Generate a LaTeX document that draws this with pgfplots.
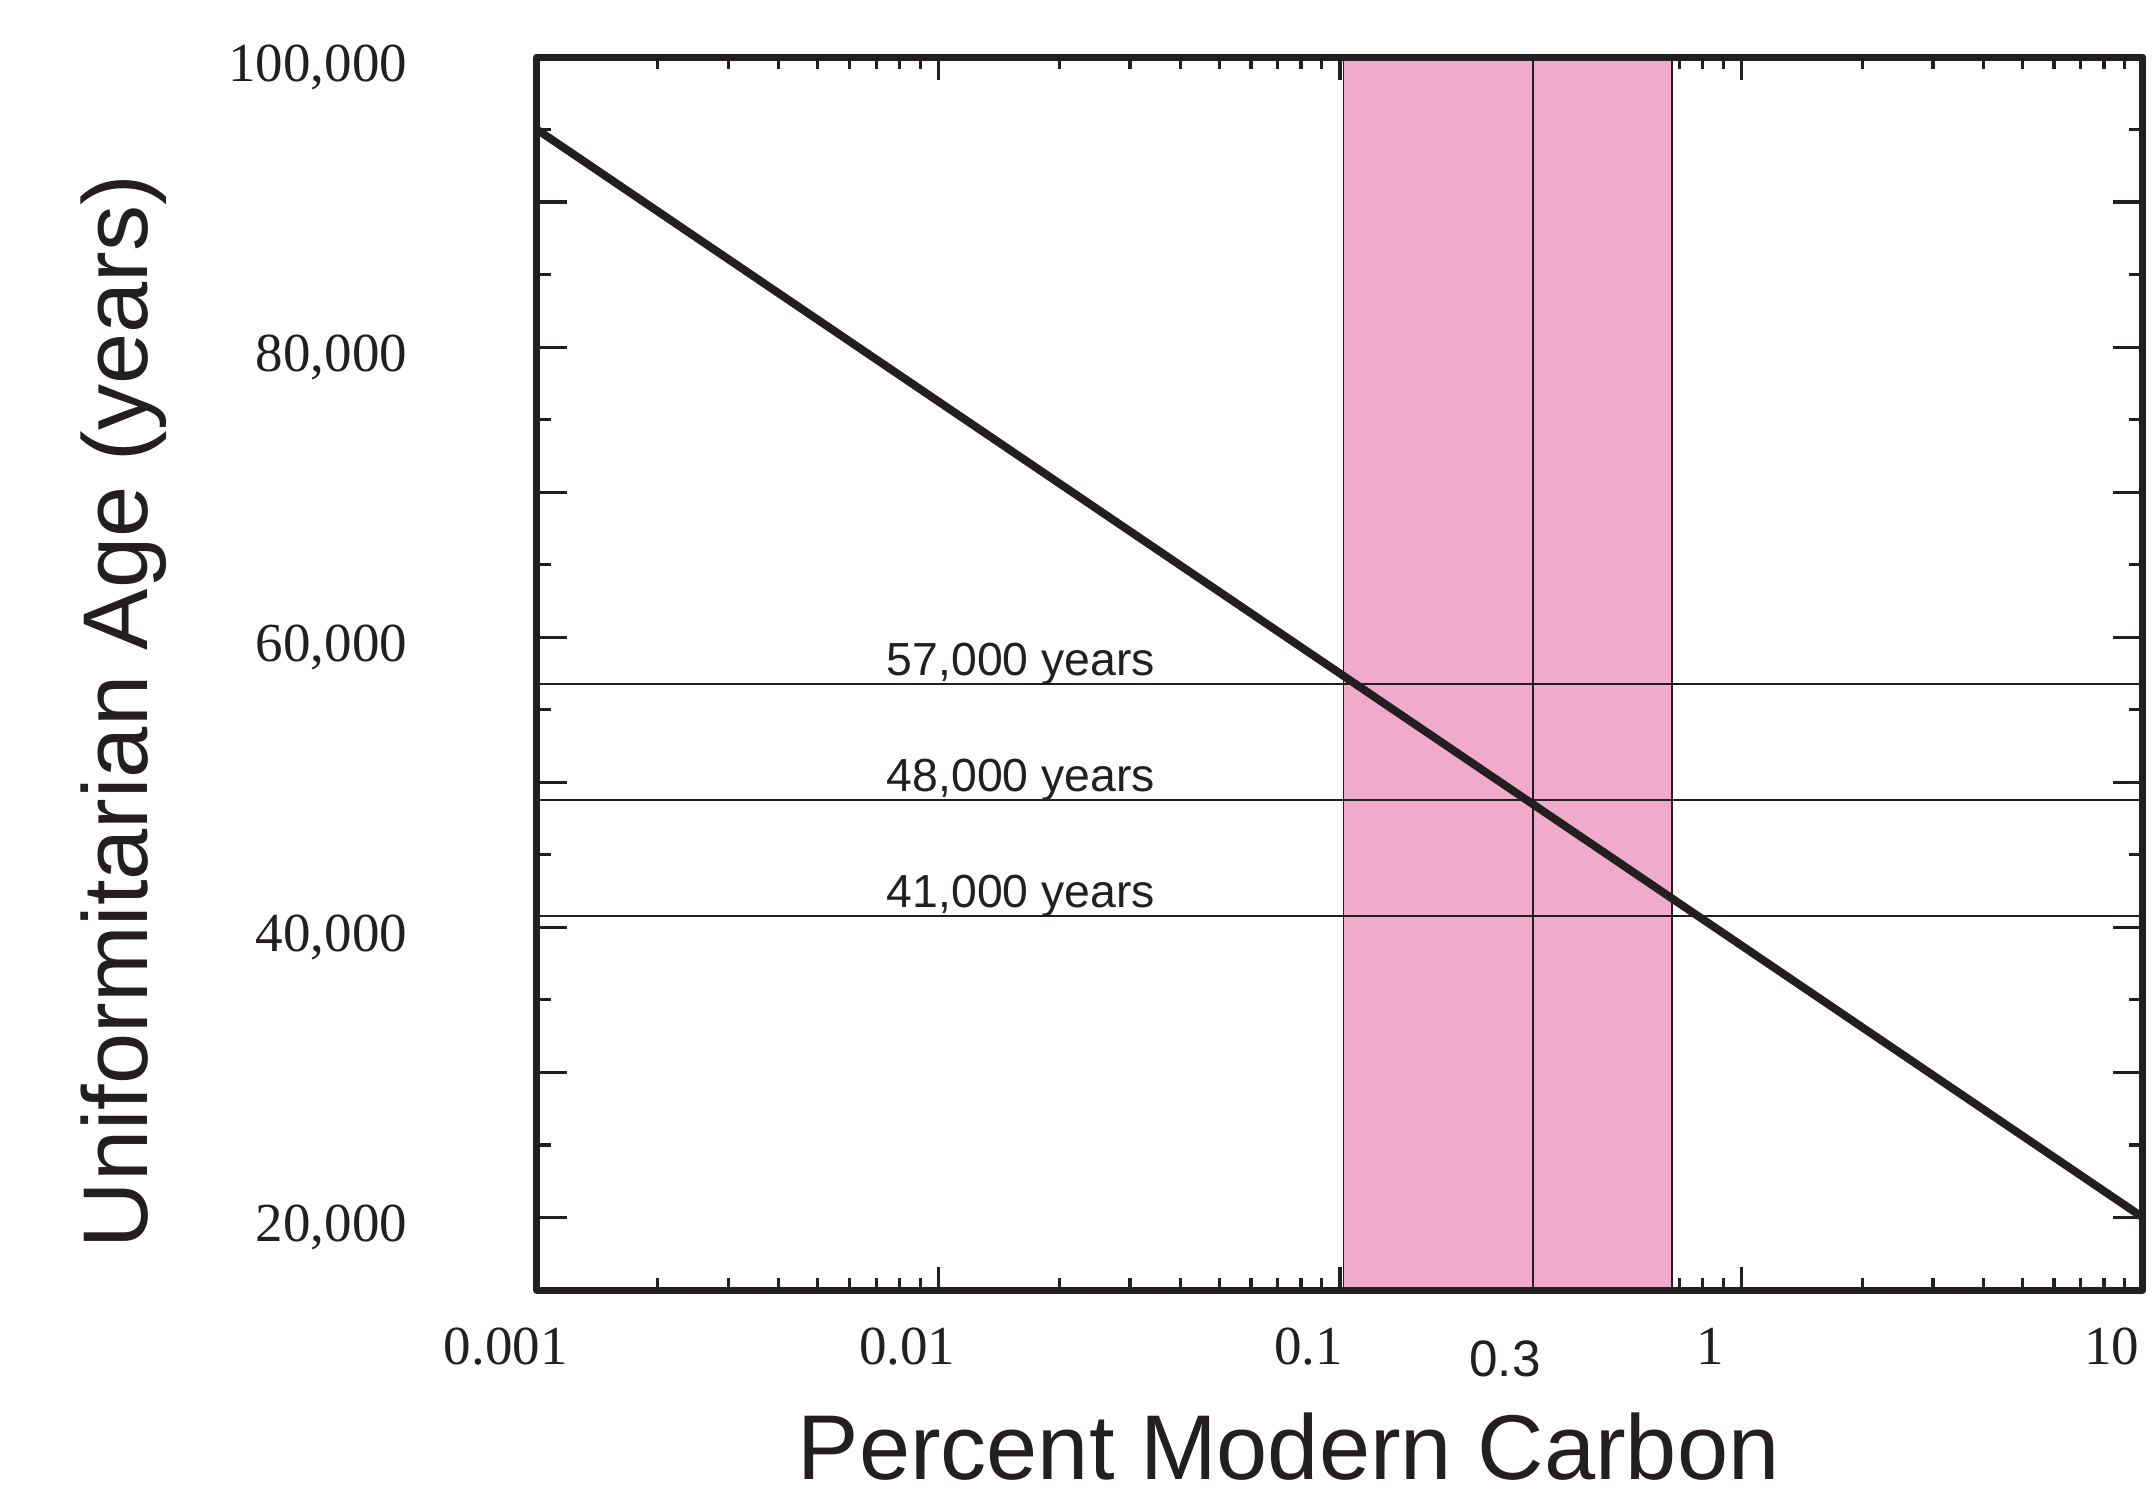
\documentclass[border=0pt]{standalone}
\usepackage{pgfplots}
\pgfplotsset{compat=1.18}
\usepackage{fontspec}
\setmainfont{Liberation Serif}
\newfontfamily\sansf{Liberation Sans}
\definecolor{ink}{RGB}{35,31,32}
\definecolor{bandpink}{RGB}{240,170,204}
\pgfplotsset{
  layers/ticksbelow/.define layer set={axis background,axis grid,axis ticks,main,axis lines,axis tick labels,axis descriptions,axis foreground}{
    grid style={/pgfplots/on layer=axis grid},
    tick style={/pgfplots/on layer=axis ticks},
    axis line style={/pgfplots/on layer=axis lines},
    label style={/pgfplots/on layer=axis descriptions},
    legend style={/pgfplots/on layer=axis descriptions},
    title style={/pgfplots/on layer=axis descriptions},
    colorbar style={/pgfplots/on layer=axis descriptions},
    ticklabel style={/pgfplots/on layer=axis tick labels},
    axis background@ style={/pgfplots/on layer=axis background},
    3d box foreground style={/pgfplots/on layer=axis foreground},
  },
}
\begin{document}
\begin{tikzpicture}
\begin{axis}[
  set layers=ticksbelow,
  xmode=log, log basis x=10,
  scale only axis, width=401.5pt, height=308.25pt,
  xmin=0.001, xmax=10, ymin=15000, ymax=100000,
  clip=false, no markers,
  axis line style={line width=1.75pt, color=ink, line join=round},
  tick align=inside,
  tick style={line width=0.8pt, color=ink},
  major tick length=7.5pt, minor tick length=3.5pt,
  xtick style={/pgfplots/major tick length=5.75pt,/pgfplots/minor tick length=3pt},
  xtick={0.001,0.01,0.1,1,10},
  xticklabels={0.001,0.01,0.1,1,10},
  minor xtick={0.002,0.003,0.004,0.005,0.006,0.007,0.008,0.009,
               0.02,0.03,0.04,0.05,0.06,0.07,0.08,0.09,
               0.2,0.3,0.4,0.5,0.6,0.7,0.8,0.9,
               2,3,4,5,6,7,8,9},
  ytick={20000,30000,40000,50000,60000,70000,80000,90000,100000},
  yticklabels={{20,000},{},{40,000},{},{60,000},{},{80,000},{},{100,000\hspace{3.6pt}}},
  minor ytick={15000,25000,35000,45000,55000,65000,75000,85000,95000},
  scaled y ticks=false,
  tick label style={font=\fontsize{13.75}{15}\selectfont, text=ink},
  xticklabel style={anchor=base, inner sep=0pt, yshift=-18.5pt, xshift=-7.8pt},
  yticklabel style={anchor=base east, inner sep=0pt, yshift=-6.1pt, xshift=-32.25pt},
  xlabel={Percent Modern Carbon},
  ylabel={Uniformitarian Age (years)},
  xlabel style={font=\sansf\fontsize{23}{26}\selectfont, text=ink, inner sep=0pt, at={(axis description cs:0.468,-0.1537)}, anchor=base},
  ylabel style={font=\sansf\fontsize{23}{26}\selectfont, text=ink, inner sep=0pt, at={(axis description cs:-0.2428,0.4692)}, anchor=base},
]
% pink band between about 0.1 and 0.67 percent modern carbon
\addplot[fill=bandpink, draw=ink, line width=0.45pt] coordinates {(0.102,15000) (0.102,100000) (0.67,100000) (0.67,15000)} -- cycle;
\addplot[ink, line width=0.45pt] coordinates {(0.302,15000) (0.302,100000)};
% horizontal age lines
\addplot[ink, line width=0.45pt] coordinates {(0.001,56800) (10,56800)};
\addplot[ink, line width=0.45pt] coordinates {(0.001,48800) (10,48800)};
\addplot[ink, line width=0.45pt] coordinates {(0.001,40800) (10,40800)};
% age vs percent modern carbon
\addplot[ink, line width=2pt] coordinates {(0.001,95000) (10,20000)};
% annotations
\node[font=\sansf\fontsize{11.6}{13}\selectfont, text=ink, anchor=base west, inner sep=0pt, yshift=2pt] at (axis cs:0.0074,56800) {57,000 years};
\node[font=\sansf\fontsize{11.6}{13}\selectfont, text=ink, anchor=base west, inner sep=0pt, yshift=2pt] at (axis cs:0.0074,48800) {48,000 years};
\node[font=\sansf\fontsize{11.6}{13}\selectfont, text=ink, anchor=base west, inner sep=0pt, yshift=2pt] at (axis cs:0.0074,40800) {41,000 years};
\node[font=\sansf\fontsize{12.8}{14}\selectfont, text=ink, anchor=base, inner sep=0pt, yshift=-21.5pt] at (axis cs:0.2577,15000) {0.3};
\end{axis}
\path (-134.25pt,-50.75pt) rectangle (404.75pt,322.5pt);
\end{tikzpicture}
\end{document}
